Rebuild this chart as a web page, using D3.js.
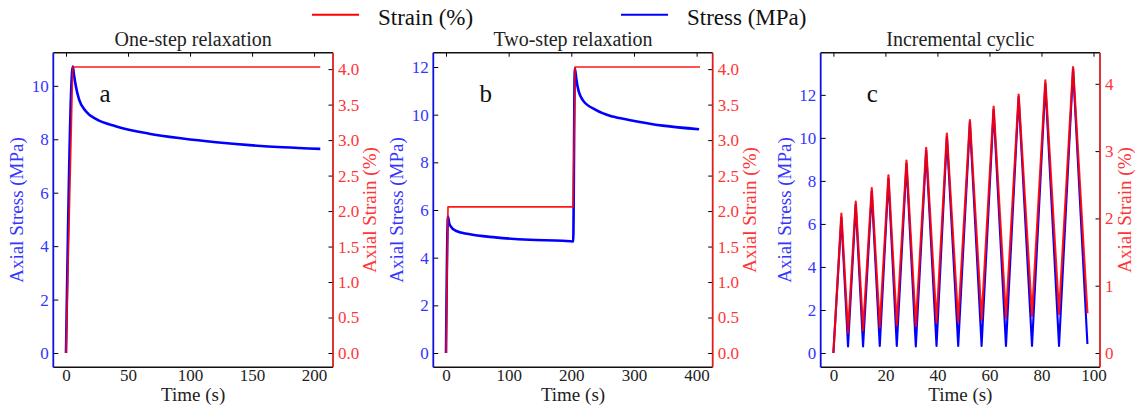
<!DOCTYPE html>
<html lang="en">
<head>
<meta charset="UTF-8" />
<title>Relaxation and incremental cyclic tests</title>
<script src="https://d3js.org/d3.v7.min.js"></script>
<style>
  body { margin: 0; background: #fff; }
  svg { display: block; }
  svg text { font-family: "Liberation Serif", "DejaVu Serif", serif !important; }
</style>
</head>
<body>
<svg id="chart" width="1137" height="407"></svg>
<script>
// ---- data ----
// (a) one-step relaxation
const tStrainA = [0, 5.4, 205];
const strainA  = [0, 4.03, 4.03];
const tStressA = [0, 5.5, 6.3, 7.9, 10.5, 16, 24, 40, 67, 94, 121, 148, 175, 205];
const stressA  = [0, 10.72, 10.45, 9.99, 9.49, 9.05, 8.76, 8.49, 8.21, 8.03, 7.89, 7.78, 7.70, 7.64];

// (b) two-step relaxation
const tStrainB = [0, 3.2, 203, 206, 405.4];
const strainB  = [0, 2.06, 2.06, 4.03, 4.03];
const tStressB = [0, 3.2, 5, 7.5, 15.5, 36, 79, 133, 186, 203, 205.6, 208, 210, 218, 239, 266, 292, 346, 404];
const stressB  = [0, 5.73, 5.45, 5.31, 5.13, 4.99, 4.85, 4.75, 4.71, 4.68, 11.95, 11.5, 11.18, 10.62, 10.20, 9.92, 9.78, 9.54, 9.39];

// (c) incremental cyclic (alternating troughs / peaks)
const tCyclic = [0, 3.07, 5.63, 8.59, 11.41, 14.75, 17.83, 21.17, 24.37, 28.1, 31.69, 35.67, 39.65,
                 43.63, 47.99, 52.48, 56.98, 61.6, 66.35, 71.22, 76.36, 81.49, 86.75, 92.15, 97.66];
const strainC = [0, 2.07, 0.30, 2.25, 0.34, 2.45, 0.38, 2.64, 0.41, 2.86, 0.40, 3.05, 0.45,
                 3.26, 0.46, 3.46, 0.49, 3.66, 0.52, 3.84, 0.55, 4.05, 0.58, 4.25, 0.59];
const stressC = [0, 6.3, 0.3, 6.9, 0.3, 7.5, 0.33, 8.1, 0.33, 8.8, 0.3, 9.4, 0.33,
                 10.05, 0.33, 10.7, 0.33, 11.3, 0.33, 11.9, 0.33, 12.5, 0.33, 13.2, 0.42];

// tick values
const xTicksA = [0, 50, 100, 150, 200];
const xTicksB = [0, 100, 200, 300, 400];
const xTicksC = [0, 20, 40, 60, 80, 100];
const stressTicksA = [0, 2, 4, 6, 8, 10];
const stressTicksB = [0, 2, 4, 6, 8, 10, 12];
const stressTicksC = [0, 2, 4, 6, 8, 10, 12];
const strainTicksAB = [0, 0.5, 1, 1.5, 2, 2.5, 3, 3.5, 4];
const strainTicksC = [0, 1, 2, 3, 4];

const titles = ["One-step relaxation", "Two-step relaxation", "Incremental cyclic"];
const letters = ["a", "b", "c"];

// ---- layout ----
const plotTop = 52.7, plotBottom = 367.3;
const BLUE = "#0000ff", RED = "#ff0000";
const FONT = "Liberation Serif, DejaVu Serif, serif";
const svg = d3.select("#chart");

const panels = [
  { left: 53.3, right: 333, xDom: [-10.25, 215.25], sDom: [-0.535, 11.24], eDom: [-0.2015, 4.2315],
    xTicks: xTicksA, sTicks: stressTicksA, eTicks: strainTicksAB, eFmt: ".1f",
    tS: tStressA, s: stressA, tE: tStrainA, e: strainA, smooth: true, blueW: 2.6, redW: 1.7 },
  { left: 433.3, right: 712.7, xDom: [-20.27, 425.67], sDom: [-0.6, 12.6], eDom: [-0.2015, 4.2315],
    xTicks: xTicksB, sTicks: stressTicksB, eTicks: strainTicksAB, eFmt: ".1f",
    tS: tStressB, s: stressB, tE: tStrainB, e: strainB, smooth: true, blueW: 2.6, redW: 1.7 },
  { left: 820.7, right: 1100, xDom: [-4.88, 102.5], sDom: [-0.665, 13.96], eDom: [-0.2125, 4.4625],
    xTicks: xTicksC, sTicks: stressTicksC, eTicks: strainTicksC, eFmt: "d",
    tS: tCyclic, s: stressC, tE: tCyclic, e: strainC, smooth: false, blueW: 2.1, redW: 2.2 }
];

function styleAxis(g, color) {
  g.attr("font-family", FONT).attr("font-size", 17);
  g.select(".domain").remove();
  g.selectAll(".tick line").attr("stroke", "#000").attr("stroke-width", 1);
  g.selectAll(".tick text").attr("fill", color).attr("font-family", FONT);
}

panels.forEach((p, i) => {
  const x = d3.scaleLinear().domain(p.xDom).range([p.left, p.right]);
  const yS = d3.scaleLinear().domain(p.sDom).range([plotBottom, plotTop]);
  const yE = d3.scaleLinear().domain(p.eDom).range([plotBottom, plotTop]);
  const g = svg.append("g").attr("font-family", FONT);

  const stressLine = d3.line().x(d => x(d[0])).y(d => yS(d[1]))
    .curve(p.smooth ? d3.curveMonotoneX : d3.curveLinear);
  const strainLine = d3.line().x(d => x(d[0])).y(d => yE(d[1]));

  g.append("path").datum(d3.zip(p.tS, p.s)).attr("d", stressLine)
    .attr("fill", "none").attr("stroke", BLUE).attr("stroke-width", p.blueW)
    .attr("stroke-linejoin", "round");
  g.append("path").datum(d3.zip(p.tE, p.e)).attr("d", strainLine)
    .attr("fill", "none").attr("stroke", RED).attr("stroke-width", p.redW)
    .attr("stroke-opacity", 0.9).attr("stroke-linejoin", "round");

  // axes
  const bx = g.append("g").attr("transform", `translate(0,${plotBottom})`)
    .call(d3.axisBottom(x).tickValues(p.xTicks).tickSize(0).tickPadding(2));
  styleAxis(bx, "#222");
  const tx = g.append("g").attr("transform", `translate(0,${plotTop})`)
    .call(d3.axisTop(x).tickValues(p.xTicks).tickSize(-4).tickFormat(""));
  styleAxis(tx, "#222");
  const ly = g.append("g").attr("transform", `translate(${p.left},0)`)
    .call(d3.axisLeft(yS).tickValues(p.sTicks).tickSize(-5).tickPadding(4.5));
  styleAxis(ly, "#3535ff");
  const ry = g.append("g").attr("transform", `translate(${p.right},0)`)
    .call(d3.axisRight(yE).tickValues(p.eTicks).tickSize(-4.5).tickPadding(5).tickFormat(d3.format(p.eFmt)));
  styleAxis(ry, "#ff3535");

  // spines
  g.append("line").attr("x1", p.left).attr("x2", p.right).attr("y1", plotTop).attr("y2", plotTop)
    .attr("stroke", "#111").attr("stroke-width", 1.6);
  g.append("line").attr("x1", p.left).attr("x2", p.right).attr("y1", plotBottom).attr("y2", plotBottom)
    .attr("stroke", "#111").attr("stroke-width", 1.6);
  g.append("line").attr("x1", p.left).attr("x2", p.left).attr("y1", plotTop).attr("y2", plotBottom)
    .attr("stroke", "#1010e0").attr("stroke-width", 1.8);
  g.append("line").attr("x1", p.right).attr("x2", p.right).attr("y1", plotTop).attr("y2", plotBottom)
    .attr("stroke", "#d82020").attr("stroke-width", 1.8);

  // labels
  const cx = (p.left + p.right) / 2, cy = (plotTop + plotBottom) / 2;
  g.append("text").attr("x", cx).attr("y", 46).attr("text-anchor", "middle")
    .attr("font-size", 20).attr("fill", "#222").text(titles[i]);
  g.append("text").attr("x", cx).attr("y", 401).attr("text-anchor", "middle")
    .attr("font-size", 19).attr("fill", "#222").text("Time (s)");
  g.append("text").attr("transform", `translate(${p.left - 30},${cy}) rotate(-90)`)
    .attr("text-anchor", "middle").attr("font-size", 19).attr("fill", "#3535ff")
    .text("Axial Stress (MPa)");
  const maxW = d3.max(ry.selectAll(".tick text").nodes(), n => n.getComputedTextLength());
  g.append("text").attr("transform", `translate(${p.right + 5 + maxW + 17},${cy}) rotate(-90)`)
    .attr("text-anchor", "middle").attr("font-size", 19).attr("fill", "#ff3535")
    .text("Axial Strain (%)");
  g.append("text").attr("x", p.left + 0.165 * (p.right - p.left)).attr("y", 101.5)
    .attr("font-size", 25).attr("fill", "#111").text(letters[i]);
});

// legend
const legend = [
  { label: "Strain (%)", color: RED, x: 312 },
  { label: "Stress (MPa)", color: BLUE, x: 621 }
];
legend.forEach(d => {
  svg.append("line").attr("x1", d.x).attr("x2", d.x + 47).attr("y1", 14.7).attr("y2", 14.7)
    .attr("stroke", d.color).attr("stroke-width", 2);
  svg.append("text").attr("x", d.x + 66).attr("y", 24.5).attr("font-size", 23)
    .attr("font-family", FONT).attr("fill", "#111").text(d.label);
});
</script>
</body>
</html>
